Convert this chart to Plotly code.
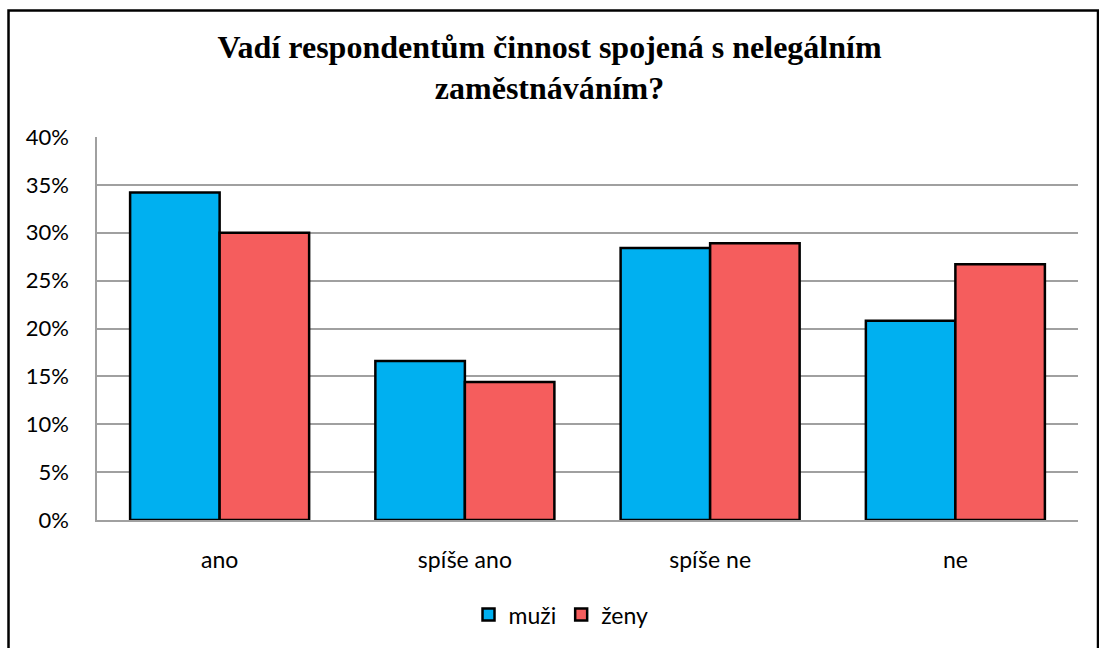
import plotly.graph_objects as go

# Données
kategorie = ["ano", "spíše ano", "spíše ne", "ne"]
muzi = [0.342, 0.166, 0.284, 0.208]
zeny = [0.300, 0.144, 0.289, 0.267]
tick_vals = [0, 0.05, 0.10, 0.15, 0.20, 0.25, 0.30, 0.35, 0.40]
tick_text = ["0%", "5%", "10%", "15%", "20%", "25%", "30%", "35%", "40%"]

font_txt = "Lato, 'Open Sans', sans-serif"

fig = go.Figure()

fig.add_trace(go.Bar(
    x=kategorie, y=muzi, name="muži",
    marker=dict(color="#00B0F0", line=dict(color="black", width=2.5)),
))
fig.add_trace(go.Bar(
    x=kategorie, y=zeny, name="ženy",
    marker=dict(color="#F55D5D", line=dict(color="black", width=2.5)),
))

fig.update_layout(
    width=1099, height=648,
    paper_bgcolor="white", plot_bgcolor="white",
    margin=dict(l=97, r=21, t=137, b=126),
    bargap=0.27, bargroupgap=0,
    title=dict(
        text="<b>Vadí respondentům činnost spojená s nelegálním<br>zaměstnáváním?</b>",
        x=0.5, xanchor="center", y=0.911, yanchor="top",
        font=dict(family="'Liberation Serif', 'Times New Roman', serif", size=32, color="black"),
    ),
    font=dict(family=font_txt, size=23, color="black"),
    legend=dict(
        orientation="h", x=0.473, xanchor="center", y=-0.247, yanchor="middle",
        font=dict(size=23), itemwidth=30,
    ),
    shapes=[dict(
        type="rect", xref="paper", yref="paper",
        x0=-0.0902, x1=1.0204, y0=-0.36, y1=1.33,
        line=dict(color="black", width=2.5), layer="below",
    )],
)

fig.update_yaxes(
    range=[0, 0.40], tickvals=tick_vals, ticktext=tick_text,
    showgrid=True, gridcolor="#A0A0A0", gridwidth=1.5,
    showline=True, linecolor="#A0A0A0", linewidth=1.5,
    zeroline=False, ticks="", ticklabelstandoff=22,
    tickfont=dict(size=22),
)
fig.update_xaxes(
    showline=True, linecolor="#A0A0A0", linewidth=1.5,
    ticks="", ticklabelstandoff=19, tickfont=dict(size=23),
)

# marge du body à zéro pour que la figure commence au coin de la fenêtre
fig.write_html(
    "out.html",
    config={"displayModeBar": False},
    post_script="document.body.style.margin='0';",
)
